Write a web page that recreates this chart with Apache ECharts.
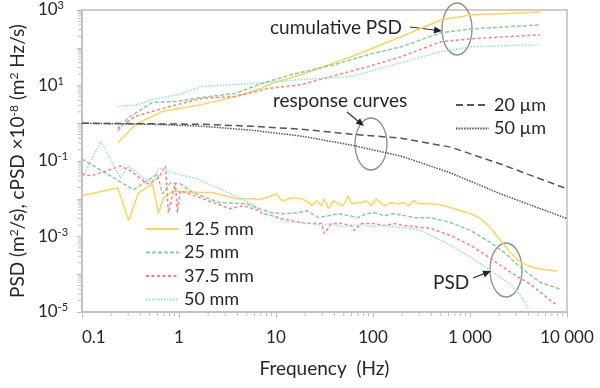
<!DOCTYPE html>
<html>
<head>
<meta charset="utf-8">
<script src="https://cdn.jsdelivr.net/npm/echarts@6/dist/echarts.min.js"></script>
<style>
  html, body { margin: 0; padding: 0; background: #fff; }
  #chart { width: 600px; height: 388px; }
</style>
</head>
<body>
<div id="chart"></div>
<script>
// ---- data (frequency Hz, value) ----
const sizeNames = ['12.5 mm', '25 mm', '37.5 mm', '50 mm'];
const responseNames = ['20 µm', '50 µm'];

// cumulative PSD (x10^-8, m^2 Hz/s)
const cum125 = [[0.234,0.30],[0.357,0.94],[0.68,2.07],[1.74,3.16],[3.78,5.0],[7.16,8.6],[9.06,11.3],[18.4,19.5],[59.8,58],[195,195],[500,545],[1014,739],[5285,885]];
const cum25 = [[0.234,0.615],[0.296,1.35],[0.533,3.57],[0.963,3.79],[1.74,4.83],[3.78,6.15],[7.16,11.3],[14.5,19.5],[40,35.7],[89.3,65.4],[195,106],[500,248],[1014,316],[5285,403]];
const cum375 = [[0.234,0.738],[0.357,1.53],[0.676,2.48],[1.74,4.55],[3.78,5.14],[8.43,8.34],[18.4,10.6],[40,18.3],[89.3,31.6],[195,58],[500,144],[1014,173],[5285,220]];
const cum50 = [[0.234,2.80],[0.357,2.98],[0.533,4.28],[1.01,5.80],[1.74,9.42],[5.65,11.3],[18.4,14.4],[59.8,17.3],[195,40.3],[500,78.5],[1014,106],[5285,120]];

// response curves
const resp20 = [[0.1,1.0],[1.74,0.941],[5.65,0.833],[18.4,0.695],[59.8,0.514],[195,0.403],[632,0.233],[2060,0.0834],[10000,0.0183]];
const resp50 = [[0.1,1.0],[0.533,0.941],[1.74,0.833],[5.65,0.654],[18.4,0.455],[59.8,0.264],[195,0.135],[632,0.0483],[2060,0.0135],[10000,0.00298]];

// PSD (m^2/s)
const psd125 = [[0.1,0.012],[0.234,0.0195],[0.303,0.00264],[0.384,0.0144],[0.533,0.0248],[0.615,0.00403],[0.692,0.0106],[0.877,0.0163],[1.03,0.0153],[2.25,0.0144],[3.96,0.0100],[5.78,0.0100],[6.82,0.00942],[9.06,0.0120],[10.2,0.0135],[11.5,0.00886],[12.9,0.00942],[14.5,0.0106],[18.4,0.0100],[22.2,0.00785],[23.3,0.00654],[26.2,0.00886],[29.4,0.00654],[31.6,0.0100],[34.8,0.00546],[39.1,0.00886],[44.0,0.00739],[49.5,0.00654],[55.7,0.0120],[59.8,0.00739],[67.3,0.00785],[75.7,0.00785],[85.1,0.00886],[95.9,0.00654],[108,0.0100],[121,0.00739],[136,0.00654],[153,0.00785],[181,0.00739],[209,0.00785],[235,0.00654],[264,0.00886],[297,0.00739],[395,0.00739],[500,0.00695],[632,0.00580],[801,0.00483],[1014,0.00403],[1285,0.00298],[1625,0.00173],[2060,0.000785],[2606,0.000379],[3300,0.000207],[4700,0.000144],[7900,0.000120]];
const psd25 = [[0.1,0.113],[0.341,0.0173],[0.601,0.0455],[0.676,0.0135],[0.817,0.0264],[1.03,0.0248],[1.41,0.0144],[2.65,0.00785],[5.02,0.00739],[5.65,0.00654],[6.67,0.00546],[9.06,0.00428],[12.3,0.00403],[17.1,0.00428],[20.7,0.00483],[23.3,0.00403],[27.5,0.00316],[34.8,0.00357],[44.0,0.00403],[55.7,0.00357],[70.5,0.00316],[85.1,0.00403],[103,0.00428],[130,0.00357],[165,0.00403],[209,0.00357],[264,0.00316],[312,0.00316],[395,0.00316],[632,0.00234],[1014,0.00144],[1625,0.000695],[2317,0.000357],[3300,0.000153],[5285,0.0000615],[8480,0.0000403]];
const psd375 = [[0.1,0.0455],[0.124,0.0403],[0.251,0.0738],[0.318,0.0546],[0.474,0.0248],[0.615,0.0357],[0.726,0.0738],[0.778,0.00428],[0.918,0.0264],[0.963,0.00428],[1.03,0.0163],[1.66,0.0106],[3.36,0.00546],[4.57,0.00654],[6.82,0.00483],[7.16,0.00403],[9.06,0.00357],[11.5,0.00298],[14.5,0.00264],[18.4,0.00234],[23.3,0.00220],[29.4,0.00220],[31.6,0.00120],[37.3,0.00220],[47.2,0.00220],[59.8,0.00195],[64.1,0.00144],[75.7,0.00220],[103,0.00220],[130,0.00195],[165,0.00220],[209,0.00195],[264,0.00183],[395,0.00163],[632,0.00106],[1014,0.000580],[1625,0.000264],[2606,0.000113],[4178,0.0000546],[6693,0.0000207],[7900,0.0000153]];
const psd50 = [[0.1,0.0336],[0.157,0.336],[0.208,0.0834],[0.251,0.0357],[0.303,0.0738],[0.431,0.0357],[0.533,0.0248],[0.615,0.0654],[0.963,0.0455],[1.55,0.0336],[2.65,0.0183],[4.26,0.0106],[6.82,0.00546],[7.16,0.00428],[9.06,0.00357],[11.5,0.00264],[14.5,0.00234],[18.4,0.00234],[23.3,0.00220],[29.4,0.00195],[37.3,0.00220],[47.2,0.00183],[59.8,0.00195],[75.7,0.00207],[95.9,0.00183],[121,0.00195],[153,0.00183],[195,0.00173],[246,0.00163],[312,0.00144],[395,0.00106],[632,0.000580],[1014,0.000280],[1625,0.000127],[2606,0.0000546],[3300,0.0000280],[3981,0.0000127]];

// axis ticks
const xTickValues = [0.1, 1, 10, 100, 1000, 10000];
const xTickLabels = ['0.1', '1', '10', '100', '1 000', '10 000'];
const yLabelExps = [3, 1, -1, -3, -5];
const minorSteps = [2, 3, 4, 5, 6, 7, 8, 9];
const xDecades = [0.1, 1, 10, 100, 1000];
const yDecades = [1e-5, 1e-4, 1e-3, 1e-2, 1e-1, 1, 10, 100];

const font = 'Lato, "Open Sans", sans-serif';
const axisGray = '#bfbfbf';
const textColor = '#262626';
const sizeColors = ['#ffd45c', '#86cf96', '#ff7f7f', '#96d6f2'];
const sizeDash = ['solid', [4, 2], [3, 2.5], [1.5, 1.5]];

const xMinor = xDecades.flatMap(d => minorSteps.map(m => [d * m, 1e-5]));
const yMinor = yDecades.flatMap(d => minorSteps.map(m => [0.1, d * m]));

const chart = echarts.init(document.getElementById('chart'));

function lineSeries(name, data, color, type, width) {
  return {
    name, type: 'line', data,
    symbol: 'none', smooth: false,
    lineStyle: { color, type, width },
    itemStyle: { color },
    emphasis: { disabled: true },
    silent: true
  };
}

function arrow(x1, y1, x2, y2) {
  const a = Math.atan2(y2 - y1, x2 - x1), L = 8, W = 3.5;
  const bx = x2 - L * Math.cos(a), by = y2 - L * Math.sin(a);
  return [
    { type: 'line', shape: { x1, y1, x2: bx, y2: by }, style: { stroke: '#333', lineWidth: 1.2 } },
    { type: 'polygon', shape: { points: [[x2, y2], [bx + W * Math.sin(a), by - W * Math.cos(a)], [bx - W * Math.sin(a), by + W * Math.cos(a)]] }, style: { fill: '#222' } }
  ];
}

function annText(x, y, text) {
  return { type: 'text', x, y, style: { text, fill: textColor, font: '19px ' + font, align: 'left', verticalAlign: 'middle' } };
}

function ellipse(cx, cy, rx, ry) {
  return { type: 'ellipse', shape: { cx, cy, rx, ry }, style: { fill: 'none', stroke: '#8c8c8c', lineWidth: 1.3 } };
}

const psdSets = [psd125, psd25, psd375, psd50];
const cumSets = [cum125, cum25, cum375, cum50];

const series = [];
sizeNames.forEach((n, i) => series.push(lineSeries(n, psdSets[i], sizeColors[i], sizeDash[i], 1.5)));
sizeNames.forEach((n, i) => series.push(lineSeries(n, cumSets[i], sizeColors[i], sizeDash[i], 1.5)));
series.push(lineSeries(responseNames[0], resp20, '#555555', [7, 4], 1.5));
series.push(lineSeries(responseNames[1], resp50, '#555555', [1.5, 1.2], 1.5));

// minor log ticks
series.push({
  type: 'custom', silent: true, data: xMinor,
  renderItem: (params, api) => {
    const p = api.coord([api.value(0), api.value(1)]);
    return { type: 'line', shape: { x1: p[0], y1: p[1], x2: p[0], y2: p[1] + 4 }, style: { stroke: axisGray, lineWidth: 1 } };
  }
});
series.push({
  type: 'custom', silent: true, data: yMinor,
  renderItem: (params, api) => {
    const p = api.coord([api.value(0), api.value(1)]);
    return { type: 'line', shape: { x1: p[0] - 4, y1: p[1], x2: p[0], y2: p[1] }, style: { stroke: axisGray, lineWidth: 1 } };
  }
});

const legendBase = {
  orient: 'vertical', itemWidth: 33, itemHeight: 12,
  itemStyle: { opacity: 0 },
  textStyle: { fontSize: 18, color: textColor, fontFamily: font, lineHeight: 20 },
  selectedMode: false
};

const option = {
  animation: false,
  textStyle: { fontFamily: font },
  grid: { left: 79, right: 33, top: 8, bottom: 76, show: true, borderColor: axisGray, borderWidth: 1.5 },
  legend: [
    Object.assign({}, legendBase, { data: sizeNames, left: 140, top: 214, itemGap: 3.5 }),
    Object.assign({}, legendBase, { data: responseNames, left: 450, top: 90, itemGap: 3.5 })
  ],
  xAxis: {
    type: 'log', logBase: 10, min: 0.1, max: 10000, interval: 1,
    name: 'Frequency  (Hz)', nameLocation: 'middle', nameGap: 47,
    nameTextStyle: { fontSize: 19, color: textColor, fontFamily: font },
    axisLine: { lineStyle: { color: axisGray, width: 1.5 } },
    axisTick: { length: 6, lineStyle: { color: axisGray } },
    splitLine: { show: false },
    axisLabel: {
      fontSize: 17, color: textColor, margin: 17, alignMinLabel: 'left',
      formatter: v => {
        const i = xTickValues.findIndex(t => Math.abs(Math.log10(t) - Math.log10(v)) < 1e-6);
        return i >= 0 ? xTickLabels[i] : '';
      }
    }
  },
  yAxis: {
    type: 'log', logBase: 10, min: 1e-5, max: 1000, interval: 1,
    name: 'PSD (m{s|2}/s), cPSD ×10{s|-8} (m{s|2} Hz/s)',
    nameLocation: 'middle', nameRotate: 90, nameGap: 52,
    nameTextStyle: {
      fontSize: 19, color: textColor, fontFamily: font,
      rich: { s: { fontSize: 12, lineHeight: 14, verticalAlign: 'top', color: textColor, fontFamily: font } }
    },
    axisLine: { lineStyle: { color: axisGray, width: 1.5 } },
    axisTick: { length: 5, lineStyle: { color: axisGray } },
    splitLine: { show: false },
    axisLabel: {
      color: textColor, margin: 44, align: 'left',
      formatter: v => {
        const e = Math.round(Math.log10(v));
        return yLabelExps.includes(e) ? '{b|10}{s|' + e + '}' : '';
      },
      rich: {
        b: { fontSize: 17, lineHeight: 20, color: textColor, fontFamily: font },
        s: { fontSize: 11, lineHeight: 14, verticalAlign: 'top', color: textColor, fontFamily: font }
      }
    }
  },
  graphic: [
    annText(270, 28, 'cumulative PSD'),
    ellipse(457, 29, 15, 26),
    ...arrow(410, 27, 442, 31),
    annText(273, 101, 'response curves'),
    ellipse(371, 144, 16, 26),
    ...arrow(347, 112, 364, 126),
    annText(433, 283, 'PSD'),
    ellipse(506, 270, 16, 27),
    ...arrow(473, 278, 491, 271)
  ],
  series
};

chart.setOption(option);
</script>
</body>
</html>
